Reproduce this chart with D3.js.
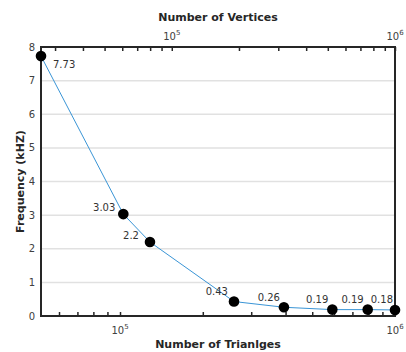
<!DOCTYPE html>
<html>
<head>
<meta charset="utf-8">
<script src="https://cdn.jsdelivr.net/npm/d3@7"></script>
<style>
  body { margin: 0; background: #fff; }
  text { font-family: "DejaVu Sans", sans-serif; fill: #262626; }
</style>
</head>
<body>
<svg id="chart" width="406" height="352"></svg>
<script>
// data
const triangles = [51600, 102800, 128500, 259700, 394500, 591600, 795700, 1000000];
const frequency = [7.73, 3.03, 2.2, 0.43, 0.26, 0.19, 0.19, 0.18];
const valueLabels = ["7.73", "3.03", "2.2", "0.43", "0.26", "0.19", "0.19", "0.18"];
const yTicks = [0, 1, 2, 3, 4, 5, 6, 7, 8];
const decadeTicks = [1e5, 1e6];

const svg = d3.select("#chart");
const plotLeft = 41, plotRight = 395, plotTop = 47, plotBottom = 316;

const x = d3.scaleLog().domain([51600, 1e6]).range([plotLeft, plotRight]);
const xTop = d3.scaleLog().domain([25950, 1e6]).range([plotLeft, plotRight]);
const y = d3.scaleLinear().domain([0, 8]).range([plotBottom, plotTop]);

// grid
svg.append("g")
  .selectAll("line")
  .data(yTicks.filter((d) => d > 0 && d < 8))
  .enter()
  .append("line")
  .attr("x1", plotLeft)
  .attr("x2", plotRight)
  .attr("y1", (d) => y(d))
  .attr("y2", (d) => y(d))
  .attr("stroke", "#e1e1e1")
  .attr("stroke-width", 1.5);

// minor/major ticks (inward)
const bottomAxis = d3.axisBottom(x).tickValues(x.ticks()).tickSize(-4).tickFormat("");
const topAxis = d3.axisTop(xTop).tickValues(xTop.ticks()).tickSize(-4).tickFormat("");

const gb = svg.append("g").attr("transform", `translate(0,${plotBottom})`).call(bottomAxis);
const gt = svg.append("g").attr("transform", `translate(0,${plotTop})`).call(topAxis);
[gb, gt].forEach((g) => {
  g.select(".domain").remove();
  g.selectAll(".tick line").attr("stroke", "#262626").attr("stroke-width", 1.5);
});

// box
svg.append("path")
  .attr("d", `M${plotLeft},${plotTop}H${plotRight}V${plotBottom}H${plotLeft}Z`)
  .attr("fill", "none")
  .attr("stroke", "#262626")
  .attr("stroke-width", 2);

// y tick labels
svg.append("g")
  .selectAll("text")
  .data(yTicks)
  .enter()
  .append("text")
  .attr("x", 35)
  .attr("y", (d) => y(d))
  .attr("dy", "0.35em")
  .attr("text-anchor", "end")
  .attr("font-size", 10)
  .style("fill", "#404040")
  .text((d) => d);

// decade labels with superscript
function decadeLabel(g, scale, yPos) {
  const t = g.selectAll("text.dec")
    .data(decadeTicks)
    .enter()
    .append("text")
    .attr("class", "dec")
    .attr("x", (d) => scale(d))
    .attr("y", yPos)
    .attr("text-anchor", "middle")
    .attr("font-size", 10)
    .style("fill", "#404040");
  t.append("tspan").text("10");
  t.append("tspan")
    .attr("font-size", 7)
    .attr("dy", -5)
    .text((d) => Math.round(Math.log10(d)));
}
decadeLabel(svg.append("g"), x, 334);
decadeLabel(svg.append("g"), xTop, 40);

// titles
svg.append("text")
  .attr("x", 218).attr("y", 21)
  .attr("text-anchor", "middle")
  .attr("font-size", 11).attr("font-weight", "bold")
  .text("Number of Vertices");

svg.append("text")
  .attr("x", 218).attr("y", 348)
  .attr("text-anchor", "middle")
  .attr("font-size", 11).attr("font-weight", "bold")
  .text("Number of Trianlges");

svg.append("text")
  .attr("transform", `translate(24,${(plotTop + plotBottom) / 2}) rotate(-90)`)
  .attr("text-anchor", "middle")
  .attr("font-size", 11).attr("font-weight", "bold")
  .text("Frequency (kHZ)");

// line + markers
const pts = triangles.map((t, i) => ({ t, f: frequency[i], label: valueLabels[i] }));

const line = d3.line()
  .x((d) => x(d.t))
  .y((d) => y(d.f));

svg.append("path")
  .datum(pts)
  .attr("d", line)
  .attr("fill", "none")
  .attr("stroke", "#3a95d6")
  .attr("stroke-width", 1);

svg.append("g")
  .selectAll("circle")
  .data(pts)
  .enter()
  .append("circle")
  .attr("cx", (d) => x(d.t))
  .attr("cy", (d) => y(d.f))
  .attr("r", 5.3)
  .attr("fill", "#000");

// value labels: first one sits right-below, the rest to the upper left
const labelShift = [[12, 8, "start"], [-8, -7, "end"], [-11, -7, "end"], [-6, -10, "end"],
  [-4, -10, "end"], [-4, -10, "end"], [-4, -10, "end"], [-2, -10, "end"]];

svg.append("g")
  .selectAll("text")
  .data(pts)
  .enter()
  .append("text")
  .attr("x", (d, i) => x(d.t) + labelShift[i][0])
  .attr("y", (d, i) => y(d.f) + labelShift[i][1])
  .attr("dy", "0.35em")
  .attr("text-anchor", (d, i) => labelShift[i][2])
  .attr("font-size", 10)
  .style("fill", "#333")
  .text((d) => d.label);
</script>
</body>
</html>
